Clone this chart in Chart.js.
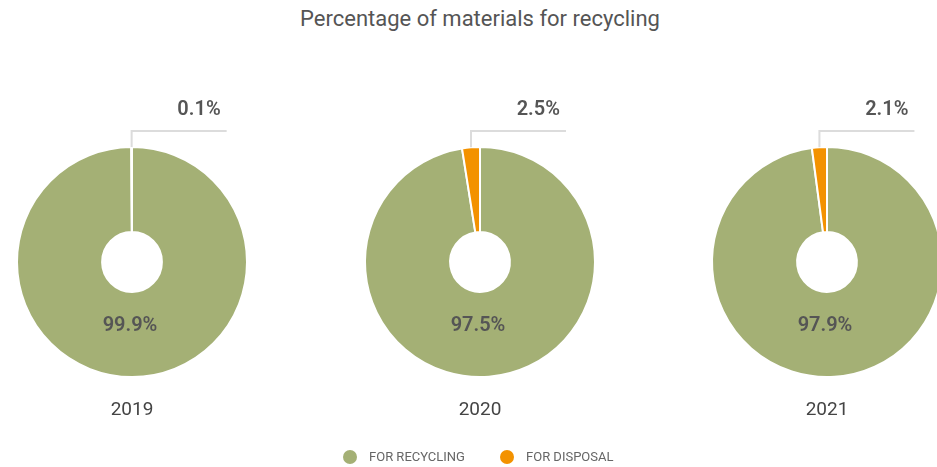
<!DOCTYPE html>
<html>
<head>
<meta charset="utf-8">
<script src="https://cdn.jsdelivr.net/npm/chart.js@4"></script>
<style>
  html, body { margin: 0; padding: 0; width: 937px; height: 467px; overflow: hidden; background: #fff; }
  body { position: relative; font-family: Roboto, "Noto Sans", sans-serif; }
  #title { position: absolute; top: 6px; left: 0; width: 960px; text-align: center; font-size: 22px; color: #555; }
  canvas.pie { position: absolute; top: 0; }
  #legend { position: absolute; top: 449px; left: 0; width: 937px; height: 18px; }
  .li { position: absolute; top: 0; font-size: 13px; color: #666; line-height: 16px; }
  .dot { position: absolute; top: 1px; width: 14px; height: 14px; border-radius: 50%; }
</style>
</head>
<body>
<div id="title">Percentage of materials for recycling</div>
<div id="charts"></div>
<div id="legend"></div>
<script>
const years = ['2019', '2020', '2021'];
const recycling = [99.9, 97.5, 97.9];
const disposal = [0.1, 2.5, 2.1];
const seriesLabels = ['FOR RECYCLING', 'FOR DISPOSAL'];
const seriesColors = ['#A4B075', '#F39200'];

const centersX = [132, 479.5, 826.5];
const centerY = 262;
const outerR = 116;
const canvasW = 300, canvasH = 467;

const labelPlugin = {
  id: 'pieLabels',
  afterDatasetsDraw(chart) {
    const ctx = chart.ctx;
    const meta = chart.getDatasetMeta(0);
    const ds = chart.data.datasets[0];
    const rec = meta.data[0], dis = meta.data[1];
    const cx = rec.x, cy = rec.y, R = rec.outerRadius;
    const mid = (dis.startAngle + dis.endAngle) / 2;
    const sx = cx + Math.cos(mid) * R;
    const sy = cy + Math.sin(mid) * R;
    const topY = 131;
    const endX = sx + 95;
    ctx.save();
    ctx.strokeStyle = '#dcdcdc';
    ctx.lineWidth = 2;
    ctx.beginPath();
    ctx.moveTo(sx, sy);
    ctx.lineTo(sx, topY);
    ctx.lineTo(endX, topY);
    ctx.stroke();
    ctx.fillStyle = '#555';
    ctx.font = '600 20px Roboto, "Noto Sans", sans-serif';
    ctx.textAlign = 'right';
    ctx.textBaseline = 'middle';
    ctx.fillText(ds.data[1].toFixed(1) + '%', endX - 6, topY - 21);
    ctx.textAlign = 'center';
    ctx.fillText(ds.data[0].toFixed(1) + '%', cx - 2, cy + 64);
    ctx.font = '400 19px Roboto, "Noto Sans", sans-serif';
    ctx.fillStyle = '#444';
    ctx.fillText(chart.data.yearLabel, cx, cy + 148);
    ctx.restore();
  }
};

const container = document.getElementById('charts');
years.forEach((yr, i) => {
  const cv = document.createElement('canvas');
  cv.className = 'pie';
  cv.width = canvasW; cv.height = canvasH;
  cv.style.width = canvasW + 'px'; cv.style.height = canvasH + 'px';
  cv.style.left = (centersX[i] - canvasW / 2) + 'px';
  container.appendChild(cv);
  const padX = (canvasW - 2 * outerR) / 2;
  new Chart(cv, {
    type: 'doughnut',
    data: {
      labels: seriesLabels,
      yearLabel: yr,
      datasets: [{
        data: [recycling[i], disposal[i]],
        backgroundColor: seriesColors,
        borderColor: '#ffffff',
        borderWidth: 2
      }]
    },
    options: {
      responsive: false,
      animation: false,
      devicePixelRatio: 1,
      cutout: '26%',
      layout: { padding: { top: centerY - outerR, bottom: canvasH - centerY - outerR, left: padX, right: padX } },
      plugins: { legend: { display: false }, tooltip: { enabled: false }, title: { display: false } }
    },
    plugins: [labelPlugin]
  });
});

const legend = document.getElementById('legend');
const legendX = [343, 500];
seriesLabels.forEach((lab, i) => {
  const d = document.createElement('div');
  d.className = 'li';
  d.style.left = legendX[i] + 'px';
  d.innerHTML = '<span class="dot" style="left:0;background:' + seriesColors[i] + '"></span><span style="position:absolute;left:26px;white-space:nowrap;">' + lab + '</span>';
  legend.appendChild(d);
});
</script>
</body>
</html>
